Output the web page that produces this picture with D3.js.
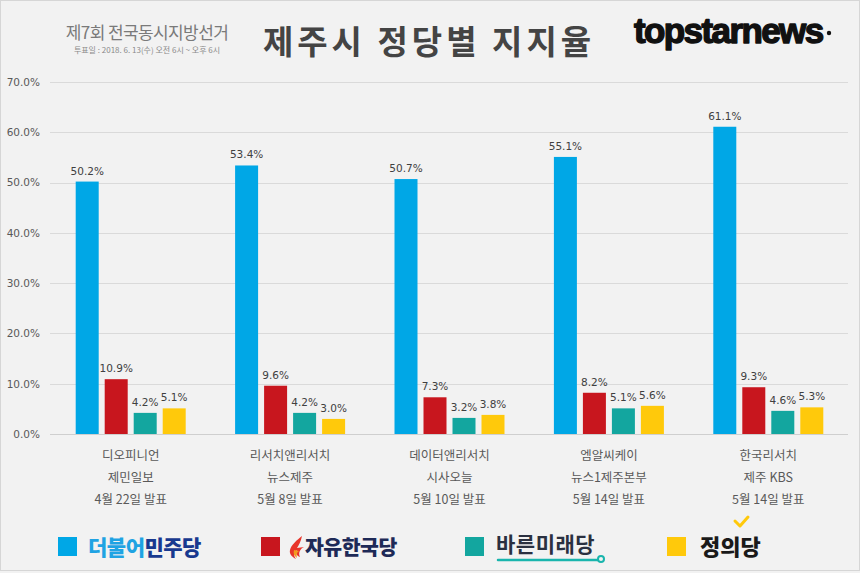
<!DOCTYPE html>
<html><head><meta charset="utf-8">
<script src="https://cdn.jsdelivr.net/npm/d3@7"></script>
<style>
html,body{margin:0;padding:0;background:#f2f2f2;}
svg{display:block;}
</style></head>
<body>
<svg id="chart" width="860" height="573"></svg>
<script>
const categories = [
  ["디오피니언", "제민일보", "4월 22일 발표"],
  ["리서치앤리서치", "뉴스제주", "5월 8일 발표"],
  ["데이터앤리서치", "시사오늘", "5월 10일 발표"],
  ["엠알씨케이", "뉴스1제주본부", "5월 14일 발표"],
  ["한국리서치", "제주 KBS", "5월 14일 발표"]
];
const parties = ["더불어민주당", "자유한국당", "바른미래당", "정의당"];
const democratic = [50.2, 53.4, 50.7, 55.1, 61.1];
const libertyKorea = [10.9, 9.6, 7.3, 8.2, 9.3];
const bareunmirae = [4.2, 4.2, 3.2, 5.1, 4.6];
const justice = [5.1, 3.0, 3.8, 5.6, 5.3];
const yTicks = [0, 10, 20, 30, 40, 50, 60, 70];
const colors = ["#00a7e6", "#c8161e", "#13a69f", "#ffc90b"];

const series = [democratic, libertyKorea, bareunmirae, justice];
const svg = d3.select("#chart");
const W = 860, H = 573;

svg.append("rect").attr("x",0.5).attr("y",0.5).attr("width",W-1).attr("height",H-3)
  .attr("fill","#f2f2f2").attr("stroke","#d6d6d6");

const x0 = d3.scaleBand().domain(d3.range(categories.length)).range([51, 848]);
const x1 = d3.scaleBand().domain(d3.range(parties.length)).range([0, 110]).paddingInner(0.207);
const y = d3.scaleLinear().domain([0, 70]).range([434, 82]);

// grid
svg.append("g").selectAll("line").data(yTicks).join("line")
  .attr("x1", 50).attr("x2", 848)
  .attr("y1", d => Math.round(y(d)) + 0.5).attr("y2", d => Math.round(y(d)) + 0.5)
  .attr("stroke", d => d === 0 ? "#cfcfcf" : "#dadada").attr("stroke-width", 1);

// y axis labels
const yAxis = d3.axisLeft(y).tickValues(yTicks).tickFormat(d => d.toFixed(1) + "%").tickSize(0).tickPadding(0);
const ya = svg.append("g").attr("transform", "translate(40,0)").call(yAxis);
ya.select(".domain").remove();
ya.selectAll("text").attr("font-family", "DejaVu Sans, Verdana, sans-serif").attr("font-size", 10.5).attr("fill", "#595959");

// bars
const groups = svg.append("g").selectAll("g").data(categories).join("g")
  .attr("transform", (d, i) => `translate(${x0(i) + x0.bandwidth()/2 - 55},0)`);

groups.each(function(_, gi) {
  const g = d3.select(this);
  const vals = series.map(s => s[gi]);
  g.selectAll("rect").data(vals).join("rect")
    .attr("x", (d, si) => x1(si)).attr("width", x1.bandwidth())
    .attr("y", d => y(d)).attr("height", d => y(0) - y(d))
    .attr("fill", (d, si) => colors[si]);
  g.selectAll("text").data(vals).join("text")
    .attr("x", (d, si) => x1(si) + x1.bandwidth()/2)
    .attr("y", d => y(d) - 7)
    .attr("text-anchor", "middle")
    .attr("font-family", "DejaVu Sans, Verdana, sans-serif").attr("font-size", 10.5)
    .attr("fill", "#404040")
    .text(d => d.toFixed(1) + "%");
});

// category labels
const catG = svg.append("g").selectAll("text").data(categories).join("text")
  .attr("text-anchor", "middle")
  .attr("font-family", "'Noto Sans CJK KR', sans-serif").attr("font-size", 12.5)
  .attr("fill", "#595959");
catG.each(function(lines, i) {
  const t = d3.select(this);
  lines.forEach((ln, k) => {
    t.append("tspan").attr("x", x0(i) + x0.bandwidth()/2).attr("y", 460 + k * 22).text(ln);
  });
});

// titles
svg.append("text").attr("x", 147).attr("y", 39).attr("text-anchor", "middle")
  .attr("font-family", "'Noto Sans CJK KR', sans-serif").attr("font-size", 17)
  .attr("letter-spacing", -0.6).attr("fill", "#7a7a7a").text("제7회 전국동시지방선거");
svg.append("text").attr("x", 147).attr("y", 53).attr("text-anchor", "middle")
  .attr("font-family", "'Noto Sans CJK KR', sans-serif").attr("font-size", 8)
  .attr("fill", "#8a8a8a").text("투표일 : 2018. 6. 13(수) 오전 6시 ~ 오후 6시");
svg.append("text").attr("x", 429).attr("y", 54).attr("text-anchor", "middle")
  .attr("font-family", "'Noto Sans CJK KR', sans-serif").attr("font-size", 33).attr("font-weight", 700)
  .attr("letter-spacing", 4).attr("fill", "#444").text("제주시 정당별 지지율");

// logo
svg.append("text").attr("x", 634).attr("y", 43)
  .attr("font-family", "'Liberation Sans', Arial, sans-serif").attr("font-size", 35).attr("font-weight", 700)
  .attr("letter-spacing", -1.6)
  .attr("stroke", "#111").attr("stroke-width", 1.4).attr("stroke-linejoin", "round")
  .attr("fill", "#111").text("topstarnews");
svg.append("circle").attr("cx", 829).attr("cy", 33).attr("r", 2.2).attr("fill", "#111");

// legend
const legY = 537, sq = 19;
const legX = [58, 261, 465, 667];
svg.append("g").selectAll("rect").data(parties).join("rect")
  .attr("x", (d, i) => legX[i]).attr("y", legY).attr("width", sq).attr("height", sq)
  .attr("fill", (d, i) => colors[i]);

const kfont = "'Noto Sans CJK KR', sans-serif";
// 더불어민주당
const t1 = svg.append("text").attr("x", 88).attr("y", 555)
  .attr("font-family", kfont).attr("font-size", 21).attr("font-weight", 900).attr("letter-spacing", -0.5);
t1.append("tspan").attr("fill", "#1fa3e3").text(parties[0].slice(0, 3));
t1.append("tspan").attr("fill", "#18398f").text(parties[0].slice(3));

// 자유한국당 with flame
const fl = svg.append("g").attr("transform", "translate(289,536)");
fl.append("path").attr("d", "M13,0 C8,4 2,9 1,14 C0,18 3,21 7,23 C4,19 5,16 8,14 C6,17 8,20 11,21 C9,17 11,13 15,11 L8,12 C10,9 12,5 13,0 Z").attr("fill", "#e8352a");
fl.append("path").attr("d", "M5,14 C4,17 5,20 8,22 C7,19 8,16 10,15 Z").attr("fill", "#f39a1e");
svg.append("text").attr("x", 305).attr("y", 555)
  .attr("font-family", kfont).attr("font-size", 20.5).attr("font-weight", 900).attr("letter-spacing", -0.5)
  .attr("fill", "#1e2a57").text(parties[1]);

// 바른미래당
svg.append("text").attr("x", 496).attr("y", 552)
  .attr("font-family", kfont).attr("font-size", 21).attr("font-weight", 700).attr("letter-spacing", 0.5)
  .attr("fill", "#2a3040").text(parties[2]);
svg.append("line").attr("x1", 498).attr("x2", 598).attr("y1", 560).attr("y2", 560)
  .attr("stroke", "#19b5ad").attr("stroke-width", 2.5).attr("stroke-linecap", "round");
svg.append("circle").attr("cx", 601).attr("cy", 559).attr("r", 3).attr("fill", "#f2f2f2")
  .attr("stroke", "#19b5ad").attr("stroke-width", 2);

// 정의당
svg.append("text").attr("x", 700).attr("y", 555)
  .attr("font-family", kfont).attr("font-size", 22).attr("font-weight", 900).attr("letter-spacing", 0)
  .attr("fill", "#1a1a1a").text(parties[3]);
svg.append("path").attr("d", "M735,521 L740,526 L748,517").attr("fill", "none")
  .attr("stroke", "#ffc90b").attr("stroke-width", 3).attr("stroke-linecap", "round").attr("stroke-linejoin", "round");
</script>
</body></html>
